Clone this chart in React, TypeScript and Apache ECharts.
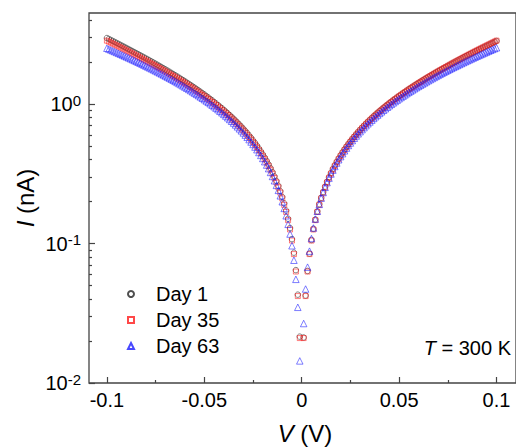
import React, { useEffect, useRef } from "react";
import * as echarts from "echarts";

// Sweep magnitudes |V| (V): each branch is measured at -|V| and +|V|
const sweepV = [
  0.001, 0.002, 0.003, 0.004, 0.005, 0.006, 0.007, 0.008, 0.009, 0.010,
  0.011, 0.012, 0.013, 0.014, 0.015, 0.016, 0.017, 0.018, 0.019, 0.020,
  0.021, 0.022, 0.023, 0.024, 0.025, 0.026, 0.027, 0.028, 0.029, 0.030,
  0.031, 0.032, 0.033, 0.034, 0.035, 0.036, 0.037, 0.038, 0.039, 0.040,
  0.041, 0.042, 0.043, 0.044, 0.045, 0.046, 0.047, 0.048, 0.049, 0.050,
  0.051, 0.052, 0.053, 0.054, 0.055, 0.056, 0.057, 0.058, 0.059, 0.060,
  0.061, 0.062, 0.063, 0.064, 0.065, 0.066, 0.067, 0.068, 0.069, 0.070,
  0.071, 0.072, 0.073, 0.074, 0.075, 0.076, 0.077, 0.078, 0.079, 0.080,
  0.081, 0.082, 0.083, 0.084, 0.085, 0.086, 0.087, 0.088, 0.089, 0.090,
  0.091, 0.092, 0.093, 0.094, 0.095, 0.096, 0.097, 0.098, 0.099, 0.100,
];

// |I| (nA) at V = -sweepV[i]
const day1Neg = [
  0.0215, 0.0430, 0.0645, 0.0860, 0.1076, 0.1292, 0.1507, 0.1724, 0.1941, 0.2158,
  0.2375, 0.2594, 0.2812, 0.3031, 0.3251, 0.3471, 0.3693, 0.3914, 0.4137, 0.4361,
  0.4584, 0.4810, 0.5036, 0.5264, 0.5492, 0.5722, 0.5953, 0.6185, 0.6419, 0.6653,
  0.6889, 0.7126, 0.7365, 0.7606, 0.7848, 0.8092, 0.8337, 0.8584, 0.8833, 0.9084,
  0.9336, 0.9590, 0.9846, 1.0105, 1.0366, 1.0629, 1.0893, 1.1160, 1.1430, 1.1702,
  1.1977, 1.2253, 1.2533, 1.2814, 1.3099, 1.3386, 1.3677, 1.3969, 1.4265, 1.4564,
  1.4866, 1.5171, 1.5479, 1.5790, 1.6105, 1.6423, 1.6745, 1.7069, 1.7397, 1.7730,
  1.8065, 1.8405, 1.8748, 1.9096, 1.9446, 1.9802, 2.0161, 2.0525, 2.0893, 2.1265,
  2.1642, 2.2023, 2.2409, 2.2800, 2.3195, 2.3595, 2.4000, 2.4410, 2.4826, 2.5247,
  2.5672, 2.6103, 2.6540, 2.6982, 2.7430, 2.7884, 2.8343, 2.8808, 2.9280, 2.9758,
];
// I (nA) at V = +sweepV[i]
const day1Pos = [
  0.0212, 0.0424, 0.0636, 0.0848, 0.1061, 0.1275, 0.1487, 0.1701, 0.1914, 0.2128,
  0.2342, 0.2557, 0.2772, 0.2988, 0.3204, 0.3421, 0.3638, 0.3856, 0.4075, 0.4295,
  0.4515, 0.4737, 0.4958, 0.5182, 0.5406, 0.5631, 0.5857, 0.6084, 0.6313, 0.6542,
  0.6772, 0.7004, 0.7237, 0.7472, 0.7708, 0.7946, 0.8185, 0.8424, 0.8666, 0.8910,
  0.9155, 0.9402, 0.9650, 0.9901, 1.0153, 1.0408, 1.0663, 1.0921, 1.1181, 1.1443,
  1.1708, 1.1974, 1.2242, 1.2513, 1.2786, 1.3062, 1.3340, 1.3620, 1.3903, 1.4188,
  1.4477, 1.4767, 1.5061, 1.5357, 1.5656, 1.5958, 1.6263, 1.6571, 1.6881, 1.7195,
  1.7513, 1.7833, 1.8156, 1.8484, 1.8813, 1.9148, 1.9485, 1.9826, 2.0171, 2.0518,
  2.0870, 2.1226, 2.1586, 2.1950, 2.2317, 2.2689, 2.3065, 2.3445, 2.3830, 2.4219,
  2.4611, 2.5009, 2.5411, 2.5819, 2.6230, 2.6647, 2.7067, 2.7493, 2.7925, 2.8361,
];

const day35Neg = [
  0.0210, 0.0420, 0.0630, 0.0840, 0.1051, 0.1262, 0.1472, 0.1684, 0.1895, 0.2107,
  0.2319, 0.2532, 0.2745, 0.2959, 0.3173, 0.3388, 0.3604, 0.3820, 0.4037, 0.4255,
  0.4473, 0.4693, 0.4913, 0.5135, 0.5357, 0.5581, 0.5805, 0.6031, 0.6258, 0.6486,
  0.6715, 0.6945, 0.7177, 0.7411, 0.7646, 0.7882, 0.8120, 0.8359, 0.8600, 0.8843,
  0.9087, 0.9333, 0.9581, 0.9831, 1.0083, 1.0337, 1.0592, 1.0850, 1.1110, 1.1372,
  1.1637, 1.1903, 1.2172, 1.2443, 1.2717, 1.2993, 1.3272, 1.3553, 1.3837, 1.4123,
  1.4413, 1.4705, 1.5000, 1.5298, 1.5599, 1.5903, 1.6210, 1.6520, 1.6833, 1.7150,
  1.7470, 1.7793, 1.8120, 1.8451, 1.8784, 1.9122, 1.9463, 1.9809, 2.0158, 2.0510,
  2.0867, 2.1228, 2.1593, 2.1963, 2.2336, 2.2714, 2.3096, 2.3483, 2.3875, 2.4271,
  2.4671, 2.5077, 2.5487, 2.5903, 2.6323, 2.6749, 2.7179, 2.7615, 2.8057, 2.8504,
];
const day35Pos = [
  0.0210, 0.0420, 0.0630, 0.0840, 0.1051, 0.1262, 0.1472, 0.1684, 0.1895, 0.2107,
  0.2319, 0.2532, 0.2745, 0.2959, 0.3173, 0.3388, 0.3604, 0.3820, 0.4037, 0.4255,
  0.4473, 0.4693, 0.4913, 0.5135, 0.5357, 0.5581, 0.5805, 0.6031, 0.6258, 0.6486,
  0.6715, 0.6945, 0.7177, 0.7411, 0.7646, 0.7882, 0.8120, 0.8359, 0.8600, 0.8843,
  0.9087, 0.9333, 0.9581, 0.9831, 1.0083, 1.0337, 1.0592, 1.0850, 1.1110, 1.1372,
  1.1637, 1.1903, 1.2172, 1.2443, 1.2717, 1.2993, 1.3272, 1.3553, 1.3837, 1.4123,
  1.4413, 1.4705, 1.5000, 1.5298, 1.5599, 1.5903, 1.6210, 1.6520, 1.6833, 1.7150,
  1.7470, 1.7793, 1.8120, 1.8451, 1.8784, 1.9122, 1.9463, 1.9809, 2.0158, 2.0510,
  2.0867, 2.1228, 2.1593, 2.1963, 2.2336, 2.2714, 2.3096, 2.3483, 2.3875, 2.4271,
  2.4671, 2.5077, 2.5487, 2.5903, 2.6323, 2.6749, 2.7179, 2.7615, 2.8057, 2.8504,
];

const day63Neg = [
  0.0144, 0.0349, 0.0554, 0.0759, 0.0964, 0.1170, 0.1374, 0.1581, 0.1786, 0.1993,
  0.2199, 0.2406, 0.2613, 0.2821, 0.3028, 0.3236, 0.3445, 0.3654, 0.3864, 0.4075,
  0.4285, 0.4496, 0.4708, 0.4921, 0.5134, 0.5348, 0.5563, 0.5779, 0.5995, 0.6212,
  0.6430, 0.6648, 0.6868, 0.7089, 0.7311, 0.7534, 0.7757, 0.7982, 0.8208, 0.8434,
  0.8662, 0.8892, 0.9123, 0.9354, 0.9586, 0.9821, 1.0056, 1.0293, 1.0531, 1.0770,
  1.1012, 1.1254, 1.1498, 1.1743, 1.1991, 1.2239, 1.2489, 1.2740, 1.2994, 1.3248,
  1.3506, 1.3764, 1.4025, 1.4287, 1.4552, 1.4817, 1.5085, 1.5354, 1.5625, 1.5899,
  1.6174, 1.6451, 1.6731, 1.7013, 1.7296, 1.7582, 1.7870, 1.8160, 1.8453, 1.8746,
  1.9044, 1.9342, 1.9644, 1.9948, 2.0255, 2.0562, 2.0873, 2.1187, 2.1504, 2.1821,
  2.2142, 2.2465, 2.2791, 2.3121, 2.3451, 2.3785, 2.4121, 2.4460, 2.4803, 2.5149,
];
const day63Pos = [
  0.0267, 0.0472, 0.0677, 0.0882, 0.1087, 0.1293, 0.1498, 0.1704, 0.1910, 0.2117,
  0.2323, 0.2530, 0.2737, 0.2945, 0.3153, 0.3362, 0.3571, 0.3780, 0.3990, 0.4201,
  0.4411, 0.4624, 0.4836, 0.5049, 0.5262, 0.5478, 0.5693, 0.5909, 0.6125, 0.6344,
  0.6562, 0.6780, 0.7000, 0.7223, 0.7445, 0.7668, 0.7893, 0.8118, 0.8344, 0.8572,
  0.8800, 0.9030, 0.9261, 0.9494, 0.9728, 0.9963, 1.0198, 1.0437, 1.0675, 1.0916,
  1.1158, 1.1402, 1.1646, 1.1893, 1.2141, 1.2391, 1.2641, 1.2894, 1.3148, 1.3404,
  1.3662, 1.3922, 1.4183, 1.4447, 1.4712, 1.4979, 1.5247, 1.5518, 1.5791, 1.6066,
  1.6342, 1.6621, 1.6901, 1.7185, 1.7468, 1.7756, 1.8044, 1.8338, 1.8631, 1.8926,
  1.9224, 1.9526, 1.9828, 2.0134, 2.0441, 2.0752, 2.1063, 2.1379, 2.1696, 2.2017,
  2.2338, 2.2665, 2.2991, 2.3323, 2.3655, 2.3991, 2.4329, 2.4670, 2.5015, 2.5361,
];

const seriesNames = ["Day 1", "Day 35", "Day 63"];
const xMajorTicks = [-0.1, -0.05, 0, 0.05, 0.1];
const xMinorTicks = [-0.075, -0.025, 0.025, 0.075];
// decade exponents of the log axis (10^-2 .. 10^0)
const yDecadeExponents = [-2, -1, 0];
// log10 positions of the 2..9 minor ticks within each decade
const yMinorTickLogs = [
  -1.69897, -1.52288, -1.39794, -1.30103, -1.22185, -1.1549, -1.09691, -1.04576,
  -0.69897, -0.52288, -0.39794, -0.30103, -0.22185, -0.1549, -0.09691, -0.04576,
  0.30103, 0.47712, 0.60206,
];
const yMin = 0.01;
const yMax = 4.5;
const yMinLog = -2;
const yMaxLog = 0.6532;
const xMin = -0.1092;
const xMax = 0.11;

const FONT = '"Liberation Sans", Arial, Helvetica, sans-serif';
const AXIS_COLOR = "#444";

function branch(neg: number[], pos: number[]) {
  const pts: number[][] = [];
  for (let i = sweepV.length - 1; i >= 0; i--) pts.push([-sweepV[i], neg[i]]);
  for (let i = 0; i < sweepV.length; i++) pts.push([sweepV[i], pos[i]]);
  return pts;
}

export default function App() {
  const ref = useRef<HTMLDivElement>(null);

  useEffect(() => {
    document.body.style.margin = "0";
    const chart = echarts.init(ref.current!, null, { renderer: "svg" });

    const mk = (name: string, symbol: string, size: number, color: string, neg: number[], pos: number[]) => ({
      type: "scatter",
      name,
      symbol,
      symbolSize: size,
      xAxisIndex: 0,
      yAxisIndex: 0,
      data: branch(neg, pos),
      itemStyle: { color: "transparent", borderColor: color, borderWidth: 0.7 },
      emphasis: { disabled: true },
      silent: true,
    });

    const tickStyle = { color: AXIS_COLOR, width: 1.2 };

    const option: any = {
      animation: false,
      backgroundColor: "#fff",
      grid: {
        left: 89,
        top: 13,
        width: 431,
        height: 370,
        show: true,
        borderColor: AXIS_COLOR,
        borderWidth: 1.3,
        backgroundColor: "transparent",
      },
      legend: {
        orient: "vertical",
        left: 127,
        top: 284,
        padding: 0,
        itemWidth: 6,
        itemHeight: 6,
        itemGap: 6,
        data: seriesNames,
        textStyle: { fontSize: 20, fontFamily: FONT, color: "#000", padding: [0, 0, 0, 17] },
        selectedMode: false,
      },
      xAxis: [
        {
          type: "value",
          min: xMin,
          max: xMax,
          position: "bottom",
          axisLine: { show: false, onZero: false },
          splitLine: { show: false },
          axisTick: { show: true, inside: true, length: 6, customValues: xMajorTicks, lineStyle: tickStyle },
          axisLabel: {
            customValues: xMajorTicks,
            formatter: (v: number) => String(v),
            fontSize: 20,
            fontFamily: FONT,
            color: "#000",
            margin: 7,
          },
        },
        {
          type: "value",
          min: xMin,
          max: xMax,
          position: "bottom",
          axisLine: { show: false, onZero: false },
          splitLine: { show: false },
          axisTick: { show: true, inside: true, length: 3, customValues: xMinorTicks, lineStyle: tickStyle },
          axisLabel: { show: false },
        },
      ],
      yAxis: [
        {
          type: "log",
          logBase: 10,
          min: yMin,
          max: yMax,
          position: "left",
          axisLine: { show: false, onZero: false },
          splitLine: { show: false },
          axisTick: { show: false },
          axisLabel: { show: false },
        },
        {
          type: "value",
          min: yMinLog,
          max: yMaxLog,
          position: "left",
          axisLine: { show: false, onZero: false },
          splitLine: { show: false },
          axisTick: { show: true, inside: true, length: 6, customValues: yDecadeExponents, lineStyle: tickStyle },
          axisLabel: {
            customValues: yDecadeExponents,
            formatter: (v: number) => `{b|10}{s|${v}}`,
            margin: 8,
            rich: {
              b: { fontSize: 20, fontFamily: FONT, color: "#000" },
              s: { fontSize: 15, fontFamily: FONT, color: "#000", padding: [0, 0, 8, 0] },
            },
          },
        },
        {
          type: "value",
          min: yMinLog,
          max: yMaxLog,
          position: "left",
          axisLine: { show: false, onZero: false },
          splitLine: { show: false },
          axisTick: { show: true, inside: true, length: 3, customValues: yMinorTickLogs, lineStyle: tickStyle },
          axisLabel: { show: false },
        },
      ],
      series: [
        mk(seriesNames[0], "circle", 5.5, "#222222", day1Neg, day1Pos),
        mk(seriesNames[1], "rect", 5, "#ff1a1a", day35Neg, day35Pos),
        mk(seriesNames[2], "triangle", 6.5, "#1a1aff", day63Neg, day63Pos),
      ],
      graphic: [
        {
          type: "text",
          x: 25,
          y: 198,
          rotation: Math.PI / 2,
          style: {
            text: "{i|I} (nA)",
            fontSize: 24,
            fontFamily: FONT,
            fill: "#000",
            textAlign: "center",
            textVerticalAlign: "middle",
            rich: { i: { fontStyle: "italic", fontSize: 24, fontFamily: FONT, fill: "#000" } },
          },
        },
        {
          type: "text",
          x: 305,
          y: 433,
          style: {
            text: "{i|V} (V)",
            fontSize: 24,
            fontFamily: FONT,
            fill: "#000",
            textAlign: "center",
            textVerticalAlign: "middle",
            rich: { i: { fontStyle: "italic", fontSize: 24, fontFamily: FONT, fill: "#000" } },
          },
        },
        {
          type: "text",
          x: 511,
          y: 348,
          style: {
            text: "{i|T} = 300 K",
            fontSize: 20,
            fontFamily: FONT,
            fill: "#000",
            textAlign: "right",
            textVerticalAlign: "middle",
            rich: { i: { fontStyle: "italic", fontSize: 20, fontFamily: FONT, fill: "#000" } },
          },
        },
      ],
    };

    chart.setOption(option);
    return () => chart.dispose();
  }, []);

  return (
    <div
      ref={ref}
      style={{ position: "fixed", left: 0, top: 0, width: 516, height: 447, background: "#fff" }}
    />
  );
}
